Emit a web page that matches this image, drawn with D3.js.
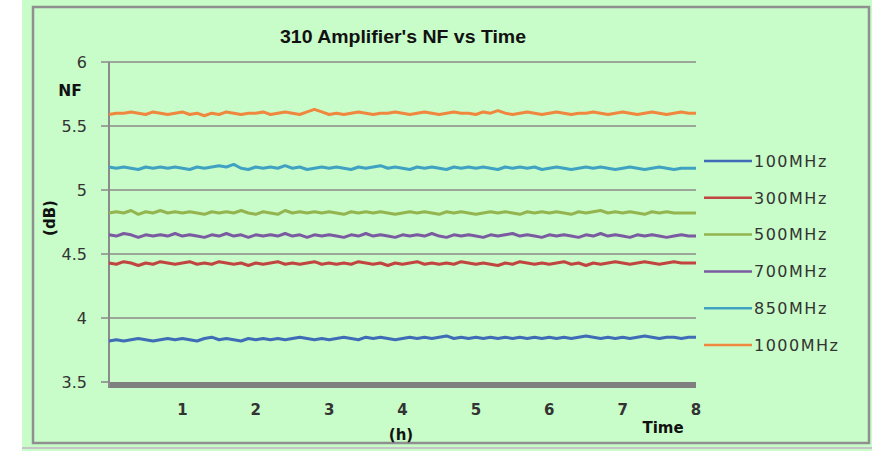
<!DOCTYPE html>
<html><head><meta charset="utf-8">
<script src="https://cdn.jsdelivr.net/npm/d3@7"></script>
<style>html,body{margin:0;padding:0;background:#fff;}svg{display:block;}</style>
</head><body>
<svg id="chart" width="879" height="451"></svg>
<script>
const title = "310 Amplifier's NF vs Time";
const seriesNames = ["100MHz","300MHz","500MHz","700MHz","850MHz","1000MHz"];
const seriesColors = ["#3f6cb6","#c0443f","#93b44f","#7a5aa0","#3fa2c2","#f0873e"];
const yTicks = [3.5,4,4.5,5,5.5,6];
const xTicks = [1,2,3,4,5,6,7,8];
const times = [0,0.1,0.2,0.3,0.4,0.5,0.6,0.7,0.8,0.9,1,1.1,1.2,1.3,1.4,1.5,1.6,1.7,1.8,1.9,2,2.1,2.2,2.3,2.4,2.5,2.6,2.7,2.8,2.9,3,3.1,3.2,3.3,3.4,3.5,3.6,3.7,3.8,3.9,4,4.1,4.2,4.3,4.4,4.5,4.6,4.7,4.8,4.9,5,5.1,5.2,5.3,5.4,5.5,5.6,5.7,5.8,5.9,6,6.1,6.2,6.3,6.4,6.5,6.6,6.7,6.8,6.9,7,7.1,7.2,7.3,7.4,7.5,7.6,7.7,7.8,7.9,8];
const nf100 = [3.82,3.83,3.82,3.83,3.84,3.83,3.82,3.83,3.84,3.83,3.84,3.83,3.82,3.84,3.85,3.83,3.84,3.83,3.82,3.84,3.83,3.84,3.83,3.84,3.83,3.84,3.85,3.84,3.83,3.84,3.83,3.84,3.85,3.84,3.83,3.85,3.84,3.85,3.84,3.83,3.84,3.85,3.84,3.85,3.84,3.85,3.86,3.84,3.85,3.84,3.85,3.84,3.85,3.84,3.85,3.84,3.85,3.84,3.85,3.84,3.85,3.84,3.85,3.84,3.85,3.86,3.85,3.84,3.85,3.84,3.85,3.84,3.85,3.86,3.85,3.84,3.85,3.85,3.84,3.85,3.85];
const nf300 = [4.43,4.42,4.44,4.43,4.41,4.43,4.42,4.44,4.43,4.42,4.43,4.44,4.42,4.43,4.42,4.44,4.43,4.42,4.43,4.41,4.43,4.42,4.43,4.44,4.42,4.43,4.42,4.43,4.44,4.42,4.43,4.42,4.43,4.42,4.44,4.43,4.42,4.43,4.41,4.43,4.42,4.43,4.44,4.42,4.43,4.42,4.43,4.42,4.44,4.43,4.42,4.43,4.42,4.41,4.43,4.42,4.44,4.43,4.42,4.43,4.42,4.43,4.44,4.42,4.43,4.41,4.43,4.42,4.43,4.44,4.43,4.42,4.43,4.44,4.43,4.42,4.43,4.44,4.43,4.43,4.43];
const nf500 = [4.82,4.83,4.82,4.84,4.81,4.83,4.82,4.84,4.82,4.83,4.82,4.83,4.82,4.81,4.83,4.82,4.83,4.82,4.84,4.82,4.81,4.83,4.82,4.81,4.84,4.82,4.83,4.82,4.83,4.82,4.83,4.82,4.81,4.83,4.82,4.83,4.82,4.83,4.82,4.81,4.82,4.83,4.82,4.83,4.82,4.81,4.83,4.82,4.83,4.82,4.81,4.82,4.83,4.82,4.83,4.82,4.81,4.83,4.82,4.83,4.82,4.83,4.82,4.81,4.83,4.82,4.83,4.84,4.82,4.83,4.82,4.83,4.82,4.81,4.83,4.82,4.83,4.82,4.82,4.82,4.82];
const nf700 = [4.65,4.64,4.66,4.65,4.63,4.65,4.64,4.65,4.64,4.66,4.64,4.65,4.64,4.63,4.65,4.64,4.66,4.64,4.65,4.63,4.65,4.64,4.65,4.64,4.66,4.64,4.65,4.63,4.65,4.64,4.65,4.64,4.63,4.65,4.64,4.66,4.64,4.65,4.64,4.63,4.65,4.64,4.65,4.64,4.66,4.64,4.63,4.65,4.64,4.65,4.64,4.63,4.65,4.64,4.65,4.66,4.64,4.65,4.64,4.63,4.65,4.64,4.65,4.64,4.63,4.65,4.64,4.66,4.64,4.65,4.64,4.63,4.65,4.64,4.65,4.64,4.63,4.64,4.65,4.64,4.64];
const nf850 = [5.18,5.17,5.18,5.17,5.16,5.18,5.17,5.18,5.17,5.18,5.17,5.16,5.18,5.17,5.18,5.19,5.18,5.20,5.17,5.16,5.18,5.17,5.18,5.17,5.19,5.17,5.18,5.16,5.17,5.18,5.17,5.18,5.17,5.16,5.18,5.17,5.18,5.19,5.17,5.18,5.17,5.16,5.18,5.17,5.18,5.17,5.16,5.18,5.17,5.18,5.17,5.18,5.17,5.16,5.18,5.17,5.18,5.17,5.18,5.16,5.17,5.18,5.17,5.16,5.17,5.18,5.17,5.18,5.17,5.16,5.17,5.18,5.17,5.16,5.17,5.18,5.17,5.16,5.17,5.17,5.17];
const nf1000 = [5.59,5.60,5.60,5.61,5.60,5.59,5.61,5.60,5.59,5.60,5.61,5.59,5.60,5.58,5.60,5.59,5.61,5.60,5.59,5.60,5.60,5.61,5.59,5.60,5.61,5.60,5.59,5.61,5.63,5.61,5.59,5.60,5.59,5.60,5.61,5.60,5.59,5.60,5.60,5.61,5.60,5.59,5.60,5.61,5.60,5.59,5.60,5.61,5.60,5.60,5.59,5.61,5.60,5.62,5.60,5.59,5.60,5.61,5.60,5.59,5.60,5.61,5.60,5.59,5.60,5.60,5.61,5.60,5.59,5.60,5.61,5.60,5.59,5.60,5.61,5.60,5.59,5.60,5.61,5.60,5.60];
const seriesValues = [nf100,nf300,nf500,nf700,nf850,nf1000];

const svg = d3.select("#chart");
const W = 879, H = 451;
const green = "#c8fcc8";
const axisGray = "#8a8a8a";
const font = "'DejaVu Sans', Verdana, sans-serif";

// background
svg.append("rect").attr("x",22).attr("y",0).attr("width",850).attr("height",H).attr("fill",green);
svg.append("rect").attr("x",33).attr("y",7).attr("width",836).attr("height",436)
  .attr("fill","none").attr("stroke","#8f8f8f").attr("stroke-width",2.5);
svg.append("line").attr("x1",22).attr("x2",872).attr("y1",448).attr("y2",448)
  .attr("stroke","#c4c4c4").attr("stroke-width",2);

const x = d3.scaleLinear().domain([0,8]).range([109,696]);
const y = d3.scaleLinear().domain([3.5,6]).range([382,62]);

// gridlines
svg.append("g").selectAll("line").data(yTicks.filter(d=>d>3.5)).join("line")
  .attr("x1",101).attr("x2",x(8)).attr("y1",d=>y(d)).attr("y2",d=>y(d))
  .attr("stroke",axisGray).attr("stroke-width",1.6);
// floor bar
svg.append("rect").attr("x",x(0)-1).attr("y",y(3.5)).attr("width",x(8)-x(0)+1).attr("height",6).attr("fill","#7f7f7f");
svg.append("line").attr("x1",101).attr("x2",x(0)).attr("y1",y(3.5)).attr("y2",y(3.5))
  .attr("stroke",axisGray).attr("stroke-width",1.6);
// y axis line
svg.append("line").attr("x1",x(0)).attr("x2",x(0)).attr("y1",y(6)).attr("y2",y(3.5)+6)
  .attr("stroke",axisGray).attr("stroke-width",2);

// y tick labels
svg.append("g").selectAll("text").data(yTicks).join("text")
  .attr("x",87).attr("y",d=>y(d)).attr("dy","0.36em").attr("text-anchor","end")
  .attr("font-family",font).attr("font-size",16).attr("fill","#333")
  .text(d=>d);
// x tick labels
svg.append("g").selectAll("text").data(xTicks).join("text")
  .attr("x",d=>x(d)).attr("y",410).attr("dy","0.36em").attr("text-anchor","middle")
  .attr("font-family",font).attr("font-size",15).attr("font-weight","bold").attr("fill","#333")
  .text(d=>d);

// series lines
const line = d3.line().x((d,i)=>x(times[i])).y(d=>y(d));
svg.append("g").selectAll("path").data(seriesValues).join("path")
  .attr("d",d=>line(d)).attr("fill","none")
  .attr("stroke",(d,i)=>seriesColors[i]).attr("stroke-width",3).attr("stroke-linejoin","round");

// titles
svg.append("text").attr("x",403).attr("y",43).attr("text-anchor","middle")
  .attr("font-family","'Liberation Sans', Arial, sans-serif").attr("font-weight","bold").attr("font-size",17.5)
  .attr("textLength",246).attr("lengthAdjust","spacingAndGlyphs")
  .attr("fill","#111").text(title);
svg.append("text").attr("x",70).attr("y",96).attr("text-anchor","middle")
  .attr("font-family",font).attr("font-weight","bold").attr("font-size",15.5).attr("fill","#111").text("NF");
svg.append("text").attr("transform","translate(55,218) rotate(-90)").attr("text-anchor","middle")
  .attr("font-family",font).attr("font-weight","bold").attr("font-size",15).attr("fill","#111").text("(dB)");
svg.append("text").attr("x",401).attr("y",440).attr("text-anchor","middle")
  .attr("font-family",font).attr("font-weight","bold").attr("font-size",15).attr("fill","#111").text("(h)");
svg.append("text").attr("x",663).attr("y",433).attr("text-anchor","middle")
  .attr("font-family",font).attr("font-weight","bold").attr("font-size",15).attr("fill","#111").text("Time");

// legend
const leg = svg.append("g").selectAll("g").data(seriesNames).join("g")
  .attr("transform",(d,i)=>`translate(704,${161 + i*36.8})`);
leg.append("line").attr("x1",0).attr("x2",48).attr("y1",0).attr("y2",0)
  .attr("stroke",(d,i)=>seriesColors[i]).attr("stroke-width",2.5);
leg.append("text").attr("x",50).attr("y",0).attr("dy","0.36em")
  .attr("font-family",font).attr("font-size",16).attr("letter-spacing",1.5).attr("fill","#333")
  .text(d=>d);
</script>
</body></html>
